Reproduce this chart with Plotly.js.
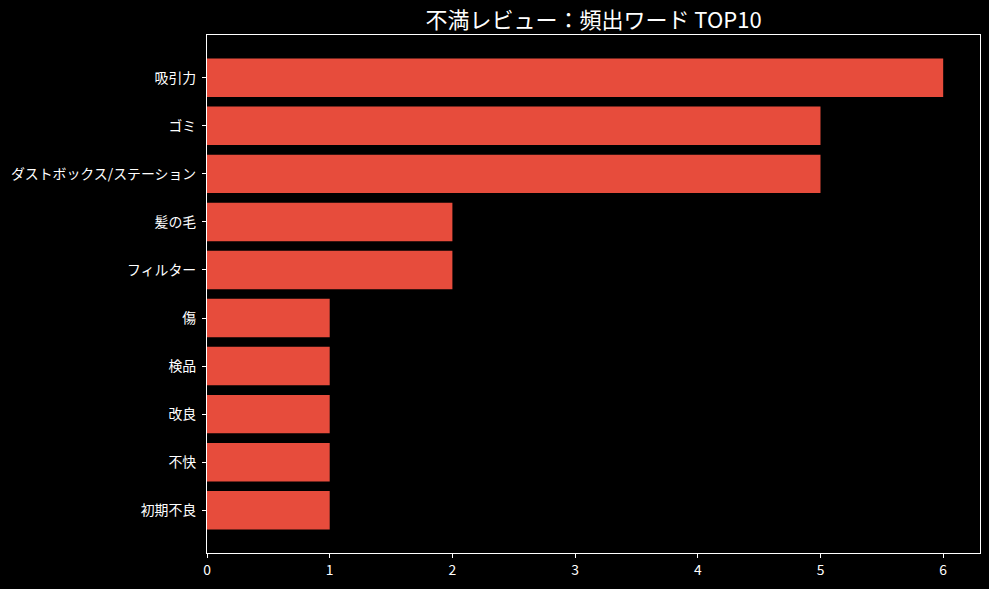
<!DOCTYPE html>
<html>
<head>
<meta charset="utf-8">
<script src="https://cdn.plot.ly/plotly-3.0.1.min.js"></script>
<style>html,body{margin:0;padding:0;background:#000;}#chart{width:989px;height:589px;}</style>
</head>
<body>
<div id="chart"></div>
<script>
const categories = ["吸引力", "ゴミ", "ダストボックス/ステーション", "髪の毛", "フィルター", "傷", "検品", "改良", "不快", "初期不良"];
const counts = [6, 5, 5, 2, 2, 1, 1, 1, 1, 1];
const xTicks = [0, 1, 2, 3, 4, 5, 6];

const font = "'Noto Sans CJK JP', 'DejaVu Sans', sans-serif";
const trace = {
  type: "bar",
  orientation: "h",
  x: counts,
  y: categories,
  width: 0.8,
  marker: {color: "#E74C3C", line: {width: 0}},
  hoverinfo: "x+y"
};
const layout = {
  width: 989, height: 589,
  paper_bgcolor: "#000", plot_bgcolor: "#000",
  margin: {l: 207, r: 9, t: 35, b: 36},
  font: {family: font, color: "#fff", size: 13.9},
  title: {text: "不満レビュー：頻出ワード TOP10", font: {family: font, size: 22, color: "#fff"}, xref: "paper", x: 0.5, xanchor: "center", y: 0.965, yanchor: "middle"},
  xaxis: {
    range: [0, 6.3], tickvals: xTicks, showgrid: false, zeroline: false,
    showline: true, linecolor: "#fff", linewidth: 1, mirror: true,
    ticks: "outside", ticklen: 4, tickcolor: "#fff", tickfont: {size: 13.9, color: "#fff"}
  },
  yaxis: {
    type: "category", categoryorder: "array", categoryarray: categories,
    range: [9.89, -0.89], showgrid: false, zeroline: false,
    showline: true, linecolor: "#fff", linewidth: 1, mirror: true,
    ticks: "outside", ticklen: 4, tickcolor: "#fff", ticklabelstandoff: 3,
    tickfont: {size: 13.9, color: "#fff"}
  },
  showlegend: false
};
Plotly.newPlot("chart", [trace], layout, {displayModeBar: false});
</script>
</body>
</html>
